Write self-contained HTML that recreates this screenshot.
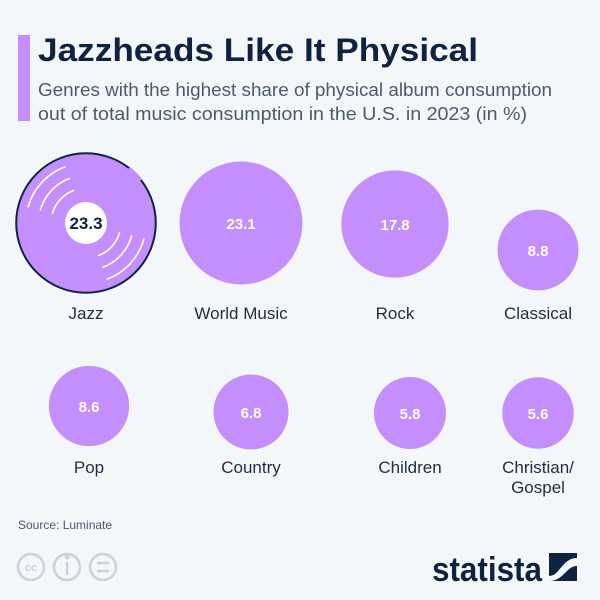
<!DOCTYPE html>
<html><head><meta charset="utf-8"><style>
body{margin:0;background:#f4f7fa;font-family:"Liberation Sans",sans-serif;}
#wrap{position:relative;width:600px;height:600px;overflow:hidden;background:#f4f7fa}
</style></head><body>
<div id="wrap">
<svg id="svg" width="600" height="600" xmlns="http://www.w3.org/2000/svg">
<rect x="18" y="35" width="12" height="86" fill="#c48ffc"/>
<text x="38" y="61" font-size="32" font-weight="bold" fill="#0f2340" textLength="440" lengthAdjust="spacingAndGlyphs">Jazzheads Like It Physical</text>
<text x="38" y="96" font-size="18" fill="#4c5a6e" textLength="514" lengthAdjust="spacingAndGlyphs">Genres with the highest share of physical album consumption</text>
<text x="38" y="120" font-size="18" fill="#4c5a6e" textLength="489" lengthAdjust="spacingAndGlyphs">out of total music consumption in the U.S. in 2023 (in %)</text>
<g id="bubbles"></g>
<text x="18" y="529" font-size="12" fill="#4c5a6e">Source: Luminate</text>
<g fill="none" stroke="#c8d3dd" stroke-width="2.5">
<circle cx="31" cy="567" r="13"/><circle cx="67" cy="567" r="13"/><circle cx="103" cy="567" r="13"/>
<line x1="97" y1="563" x2="109" y2="563"/><line x1="97" y1="571" x2="109" y2="571"/>
<line x1="67" y1="562" x2="67" y2="575"/>
</g>
<text x="31" y="571" font-size="11" font-weight="bold" fill="#c8d3dd" text-anchor="middle">cc</text>
<circle cx="67" cy="557" r="2.5" fill="#c8d3dd"/>
<text x="432" y="581" font-size="34" font-weight="bold" fill="#0f2340" textLength="110" lengthAdjust="spacingAndGlyphs">statista</text>
<rect x="549" y="553" width="28" height="28" fill="#0f2340"/>
<path d="M549 576 C560 576,562 558,577 558 L577 566 C566 566,564 581,549 581Z" fill="#f4f7fa"/>
</svg>
</div>
<script>
const categories=["Jazz","World Music","Rock","Classical","Pop","Country","Children","Christian/ Gospel"];
const values=[23.3,23.1,17.8,8.8,8.6,6.8,5.8,5.6];
const layout=[[86,223,313],[241,223,313],[395,224,313],[538,250,313],[89,406,467],[251,412,467],[410,413,467],[538,413,467]];
function rScale(v){return 27.5+1.47*v;}
const NS="http://www.w3.org/2000/svg";
const g=document.getElementById("bubbles");
function mk(t,a){const e=document.createElementNS(NS,t);for(const k in a)e.setAttribute(k,a[k]);g.appendChild(e);return e;}
function pt(cx,cy,r,a){return [cx+r*Math.cos(a*Math.PI/180),cy+r*Math.sin(a*Math.PI/180)];}
categories.forEach((c,i)=>{
  const [cx,cy,ly]=layout[i];const v=values[i];
  if(i===0){
    const r=rScale(v)*1.13;
    const d=mk("circle",{cx:cx,cy:cy,r:r,fill:"#c48ffc",stroke:"#0f2340","stroke-width":2});
    
    
    const s0=pt(cx,cy,r,-52),e0=pt(cx,cy,r,-38);
    mk("path",{d:`M${s0[0]} ${s0[1]} A${r} ${r} 0 0 1 ${e0[0]} ${e0[1]}`,fill:"none",stroke:"#c48ffc","stroke-width":3});
    [0.5,0.68,0.86].forEach(f=>{
      const rr=r*f;
      [[195,250],[15,70]].forEach(([a1,a2])=>{
        const s=pt(cx,cy,rr,a1),e=pt(cx,cy,rr,a2);
        mk("path",{d:`M${s[0]} ${s[1]} A${rr} ${rr} 0 0 1 ${e[0]} ${e[1]}`,fill:"none",stroke:"#fff","stroke-width":1.6});
      });
    });
    mk("circle",{cx:cx,cy:cy,r:21,fill:"#fff"});
    const t=mk("text",{x:cx,y:cy+6,"font-size":17,"font-weight":"bold",fill:"#0f2340","text-anchor":"middle"});
    t.textContent=v.toFixed(1);
    
    
  } else {
    const r=rScale(v);
    const b=mk("circle",{cx:cx,cy:cy,r:r,fill:"#c48ffc"});
    
    
    const t=mk("text",{x:cx,y:cy+6,"font-size":15,"font-weight":"bold",fill:"#fff","text-anchor":"middle"});
    t.textContent=v.toFixed(1);
    
    
  }
  const parts=c.includes("/")?[c.split("/ ")[0]+"/",c.split("/ ")[1]]:[c];
  parts.forEach((part,j)=>{
    const l=mk("text",{x:cx,y:ly+6+j*20,"font-size":17,fill:"#1f2d3d","text-anchor":"middle"});
    l.textContent=part;
    
    
  });
});
</script>
</body></html>
